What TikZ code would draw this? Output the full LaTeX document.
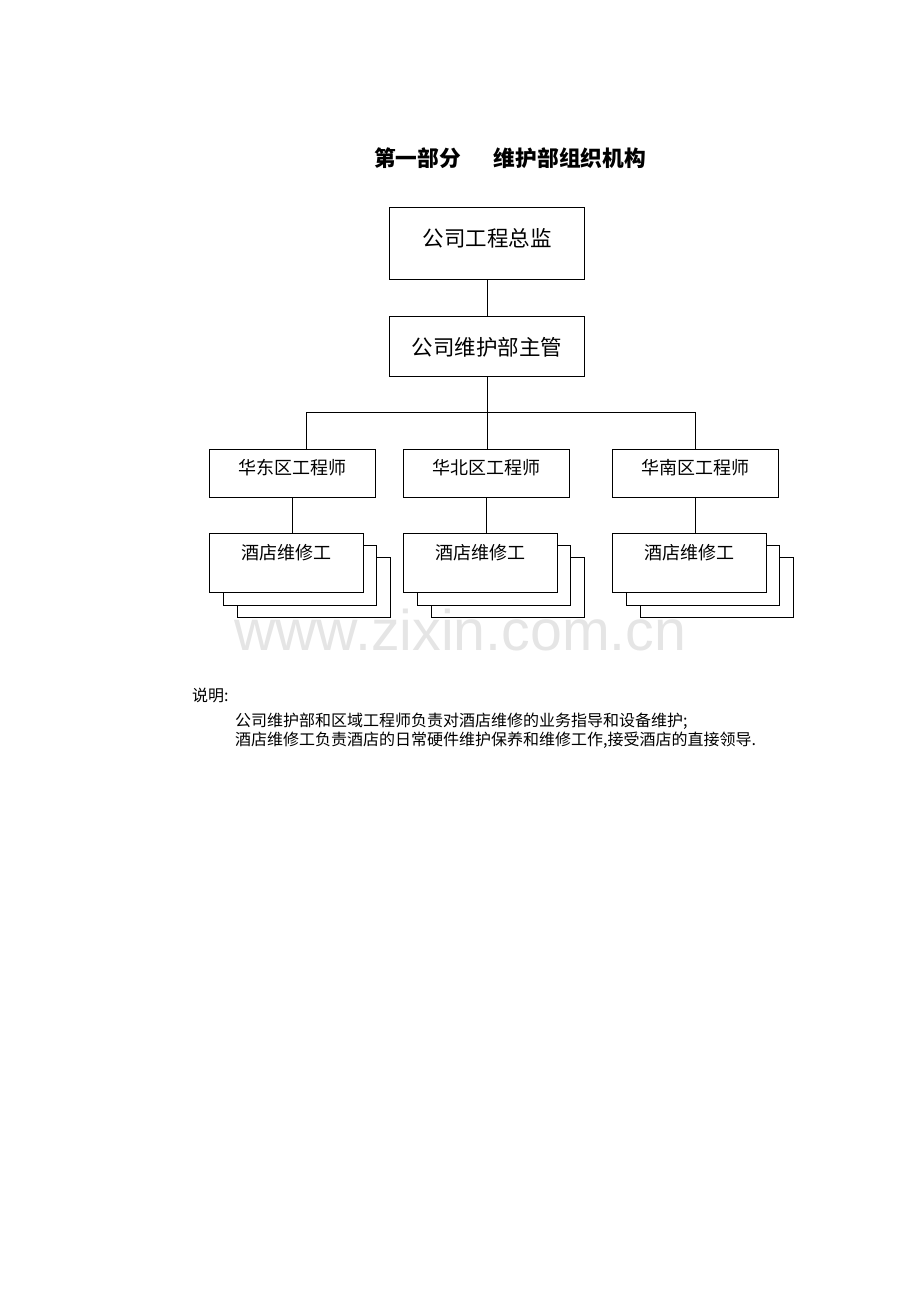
\documentclass[tikz,border=0pt]{standalone}
\usepackage{fontspec}
\newfontfamily\cjk{Noto Sans CJK SC}
\newfontfamily\wmfont{Liberation Sans}
\begin{document}
\begin{tikzpicture}[x=1pt,y=-1pt,
    orgbox/.style={draw, line width=1.1pt, fill=white, inner sep=0pt, anchor=north west},
    link/.style={line width=1.1pt},
    plain/.style={anchor=base west, inner sep=0pt}]
  \useasboundingbox (0,0) rectangle (920,1302);
  \def\bigfont{\cjk\fontsize{21.5}{25}\selectfont}
  \def\midfont{\cjk\fontsize{18}{22}\selectfont}
  \def\smallfont{\cjk\fontsize{16}{20}\selectfont}
  % title
  \node[plain, font={\cjk\bfseries\fontsize{21.7}{25}\selectfont}] (title) at (374,166)
    {第一部分\hspace{33pt}维护部组织机构};
  % top of the chart
  \node[orgbox, minimum width=195pt, text height=39pt, text depth=33pt, font=\bigfont] (chief) at (389,207) {公司工程总监};
  \node[orgbox, minimum width=195pt, text height=39pt, text depth=21pt, font=\bigfont] (head) at (389,316) {公司维护部主管};
  \draw[link] (chief.south) -- (head.north);
  % regions and their workers
  \foreach \name/\x/\txt in {east/208.5/华东区工程师, north/403/华北区工程师, south/611.5/华南区工程师}{
    \node[orgbox, minimum width=166pt, text height=25pt, text depth=23pt, font=\midfont] (r\name) at (\x,449) {\txt};
    \node[orgbox, minimum width=153pt, text height=60pt] (c\name) at (\x+28,557) {};
    \node[orgbox, minimum width=153pt, text height=60pt] (b\name) at (\x+14,545) {};
    \node[orgbox, minimum width=154pt, text height=26pt, text depth=33pt, font=\midfont] (w\name) at (\x,533) {酒店维修工};
    \draw[link] (r\name.south) -- (r\name.south |- w\name.north);
  }
  \coordinate (bar) at (486.5,412.5);
  \draw[link] (head.south) -- (head.south |- rnorth.north);
  \draw[link] ([xshift=14pt]reast.north) |- (bar) -| (rsouth.north);
  % watermark
  \node[plain, text=black!10, font={\wmfont\fontsize{57.3}{60}\selectfont}] (mark) at (234,650) {www.zixin.com.cn};
  % notes
  \node[plain, font=\smallfont] (notehead) at (192,701) {说明:};
  \node[plain, font=\smallfont] (note1) at (235,726) {公司维护部和区域工程师负责对酒店维修的业务指导和设备维护;};
  \node[plain, font=\smallfont] (note2) at (235,745.5) {酒店维修工负责酒店的日常硬件维护保养和维修工作,接受酒店的直接领导.};
\end{tikzpicture}
\end{document}
